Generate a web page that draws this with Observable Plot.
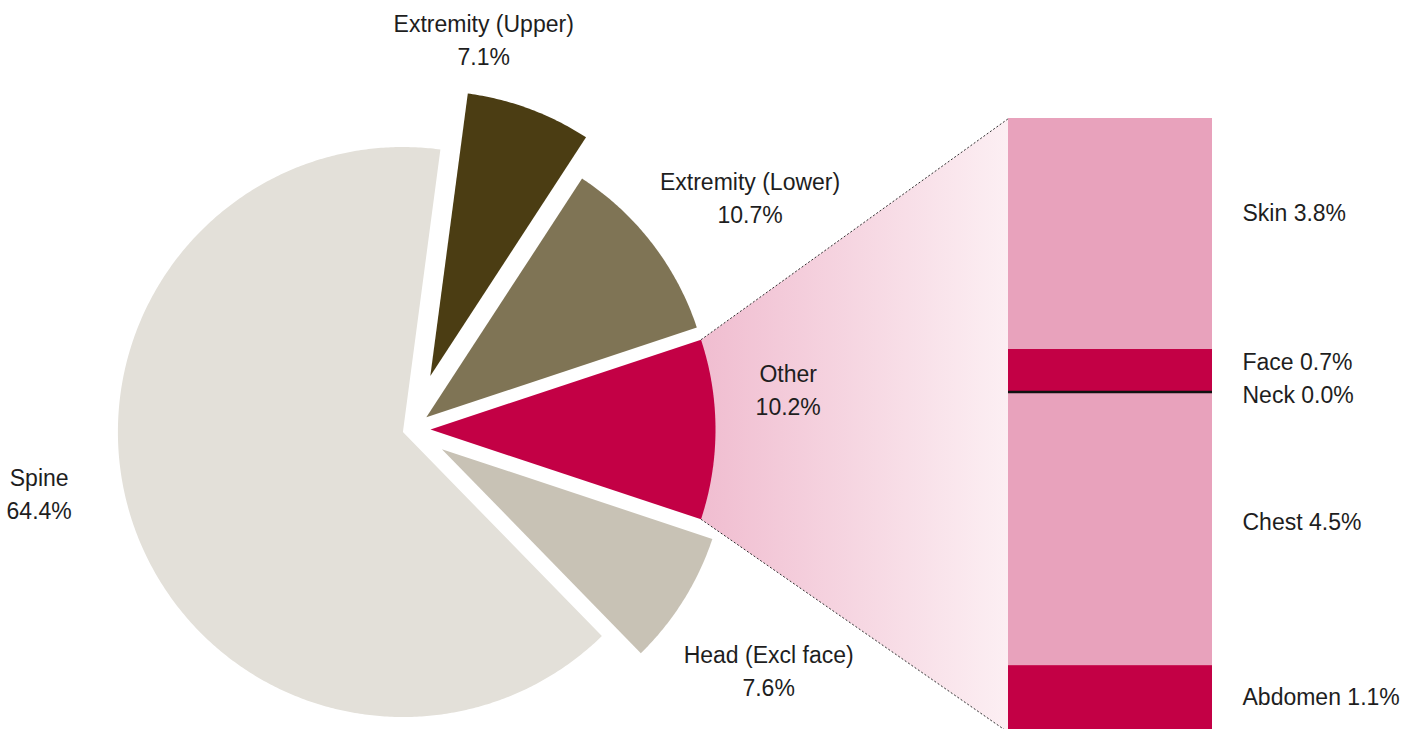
<!DOCTYPE html>
<html><head><meta charset="utf-8">
<script src="https://cdn.jsdelivr.net/npm/d3@7"></script>
<script src="https://cdn.jsdelivr.net/npm/@observablehq/plot@0.6"></script>
<style>html,body{margin:0;padding:0;background:#fff;} #chart svg{display:block;}</style>
</head><body><div id="chart"></div>
<script>
// ---- data ----
const sliceNames = ["Other", "Extremity (Lower)", "Extremity (Upper)", "Spine", "Head (Excl face)"];
const sliceValues = [10.2, 10.7, 7.1, 64.4, 7.6];
const barNames = ["Skin", "Face", "Neck", "Chest", "Abdomen"];
const barValues = [3.8, 0.7, 0.0, 4.5, 1.1];

// ---- styles ----
const sliceColors = ["#C30045", "#7F7455", "#4B3D13", "#E3E0D9", "#C8C2B5"];
const barColors = ["#E8A2BC", "#C30045", "#C30045", "#E8A2BC", "#C30045"];
const font = "'Liberation Sans', Arial, Helvetica, sans-serif";

// ---- layout ----
const W = 1420, H = 729;
const pie = {cx: 410, cy: 429, r: 285};
const explode = [20, 20, 57, 8, 37];
const labelPlacement = [[6.3, 380], [34.5, 412], [79.4, 398], [189.5, 376.5], [-33.8, 431]];
const bar = {x0: 1008, x1: 1212, top: 118, bottom: 732};
const barLabelGap = 30;
const barLabelNudge = [-20, -8, 4, -6, -1];

const rad = d => d * Math.PI / 180;
const total = d3.sum(sliceValues);
let acc = -sliceValues[0] / total * 180; // "Other" centred on the right
const slices = sliceNames.map((name, i) => {
  const span = sliceValues[i] / total * 360;
  const a0 = acc, a1 = acc + span; acc = a1;
  const mid = (a0 + a1) / 2;
  const tx = pie.cx + explode[i] * Math.cos(rad(mid));
  const ty = pie.cy - explode[i] * Math.sin(rad(mid));
  const pts = [{x: tx, y: ty}];
  const n = Math.max(10, Math.ceil(span * 2));
  for (let k = 0; k <= n; k++) {
    const t = rad(a0 + span * k / n);
    pts.push({x: tx + pie.r * Math.cos(t), y: ty - pie.r * Math.sin(t)});
  }
  const [la, lr] = labelPlacement[i];
  return {name, value: sliceValues[i], color: sliceColors[i], a0, a1, tx, ty, pts,
    label: `${name}\n${sliceValues[i].toFixed(1)}%`,
    lx: pie.cx + lr * Math.cos(rad(la)), ly: pie.cy - lr * Math.sin(rad(la)),
    c0: {x: tx + pie.r * Math.cos(rad(a0)), y: ty - pie.r * Math.sin(rad(a0))},
    c1: {x: tx + pie.r * Math.cos(rad(a1)), y: ty - pie.r * Math.sin(rad(a1))}};
});
const other = slices[0];

const barTotal = d3.sum(barValues);
const kPx = (bar.bottom - bar.top) / barTotal;
let cum = 0;
const segs = barNames.map((name, i) => {
  const y1 = bar.top + cum * kPx; cum += barValues[i];
  const y2 = bar.top + cum * kPx;
  return {name, value: barValues[i], color: barColors[i], x0: bar.x0, x1: bar.x1, y1, y2,
    label: `${name} ${barValues[i].toFixed(1)}%`, lx: bar.x1 + barLabelGap, ly: (y1 + y2) / 2 + barLabelNudge[i]};
});

const connector = [other.c1, {x: bar.x0, y: bar.top}, {x: bar.x0, y: bar.bottom}, other.c0];
const links = [
  {x1: other.c1.x, y1: other.c1.y, x2: bar.x0, y2: bar.top},
  {x1: other.c0.x, y1: other.c0.y, x2: bar.x0, y2: bar.bottom}
];

const svg = Plot.plot({
  width: W, height: H,
  margin: 0,
  x: {domain: [0, W], range: [0, W], axis: null},
  y: {domain: [0, H], range: [0, H], axis: null},
  style: {background: "#fff", fontFamily: font},
  marks: [
    Plot.line(connector, {x: "x", y: "y", fill: "url(#otherGrad)", stroke: "none", curve: "linear-closed"}),
    Plot.link(links, {x1: "x1", y1: "y1", x2: "x2", y2: "y2", stroke: "#333", strokeWidth: 1, strokeDasharray: "2,2"}),
    ...slices.map(s => Plot.line(s.pts, {x: "x", y: "y", fill: s.color, stroke: "none", curve: "linear-closed"})),
    Plot.rect(segs, {x1: "x0", x2: "x1", y1: "y1", y2: "y2", fill: "color"}),
    Plot.ruleY(segs.filter(d => d.value === 0), {y: "y1", x1: "x0", x2: "x1", stroke: "#111", strokeWidth: 2.5}),
    Plot.text(slices, {x: "lx", y: "ly", text: "label", fontSize: 23, lineHeight: 1.44, fill: "#1e1e1e",
      textAnchor: "middle", lineAnchor: "middle", fontFamily: font}),
    Plot.text(segs, {x: "lx", y: "ly", text: "label", fontSize: 23, fill: "#1e1e1e",
      textAnchor: "start", lineAnchor: "middle", fontFamily: font})
  ]
});
const defs = document.createElementNS("http://www.w3.org/2000/svg", "defs");
defs.innerHTML = `<linearGradient id="otherGrad" x1="0" x2="1" y1="0" y2="0">
  <stop offset="0" stop-color="#F0BDD0"/><stop offset="1" stop-color="#FCEFF3"/></linearGradient>`;
svg.insertBefore(defs, svg.firstChild);
document.getElementById("chart").appendChild(svg);
</script>
</body></html>
